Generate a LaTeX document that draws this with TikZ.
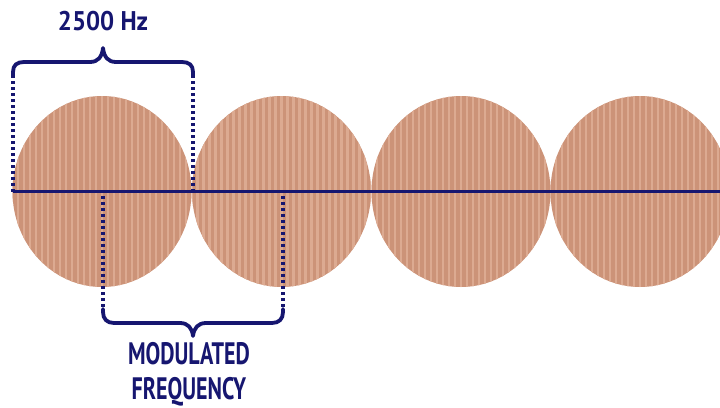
\documentclass[tikz,border=0pt]{standalone}
\usepackage{fontspec}
\newfontfamily\labfont[FakeStretch=0.71]{PT Sans}
\newfontfamily\topfont[FakeStretch=0.92]{PT Sans}
\usetikzlibrary{shapes.geometric}
\definecolor{navy}{RGB}{22,22,112}
\definecolor{salmon}{RGB}{204,147,120}
\definecolor{salmonlight}{RGB}{220,170,145}
\tikzset{
  disc/.style={ellipse, minimum width=179pt, minimum height=191pt, inner sep=0pt,
    fill=salmon, draw=none,
    path picture={
      \foreach \i in {-16,...,16}{
        \fill[salmonlight] ([xshift=\i*6pt-1.2pt,yshift=-100pt]path picture bounding box.center)
          rectangle ([xshift=\i*6pt+1.2pt,yshift=100pt]path picture bounding box.center);
      }
    }},
  axis line/.style={navy, line width=3.8pt},
  brace line/.style={navy, line width=3.8pt, line cap=round, line join=round},
  dotline/.style={navy, line width=3.6pt, dash pattern=on 3.4pt off 2.6pt},
  toplabel/.style={text=navy, font=\topfont\bfseries\fontsize{27}{30}\selectfont, inner sep=0pt},
  botlabel/.style={text=navy, font=\labfont\bfseries\fontsize{31}{35}\selectfont, inner sep=0pt, align=center}
}
\begin{document}
\begin{tikzpicture}[x=1pt,y=-1pt]
\useasboundingbox (0,0) rectangle (720,407);
\clip (0,0) rectangle (720,407);
\fill[white] (0,0) rectangle (720,407);
\node[disc] (c1) at (102,191.5) {};
\node[disc] (c2) at (281.5,191.5) {};
\node[disc] (c3) at (461,191.5) {};
\node[disc] (c4) at (640,191.5) {};
% axis
\coordinate (axL) at (13,191.5);
\coordinate (axR) at (722,191.5);
\draw[axis line] (axL) -- (axR);
% top brace
\coordinate (tA) at (13,75);
\coordinate (tB) at (193,75);
\coordinate (tAb) at (13,191.5);
\coordinate (tBb) at (193,191.5);
\draw[dotline] (tA) -- (tAb);
\draw[dotline] (tB) -- (tBb);
\draw[brace line] (tA) -- (13,72) .. controls (13,65) and (17,62) .. (24,62) -- (90,62)
  .. controls (98,62) and (102,57) .. (103,48) .. controls (104,57) and (108,62) .. (116,62)
  -- (182,62) .. controls (189,62) and (193,65) .. (193,72) -- (tB);
\node[toplabel] (hz) at (103,21) {2500 Hz};
% bottom brace
\coordinate (bA) at (103,196);
\coordinate (bB) at (283,196);
\coordinate (bAe) at (103,309);
\coordinate (bBe) at (283,309);
\draw[dotline] (bA) -- (bAe);
\draw[dotline] (bB) -- (bBe);
\draw[brace line] (bAe) -- (103,312) .. controls (103,319) and (107,323) .. (114,323) -- (180,323)
  .. controls (188,323) and (192,328) .. (193,336) .. controls (194,328) and (198,323) .. (206,323)
  -- (272,323) .. controls (279,323) and (283,319) .. (283,312) -- (bBe);
\node[botlabel] (mf) at (189,374) {MODULATED\\FREQUENCY};
\end{tikzpicture}
\end{document}
